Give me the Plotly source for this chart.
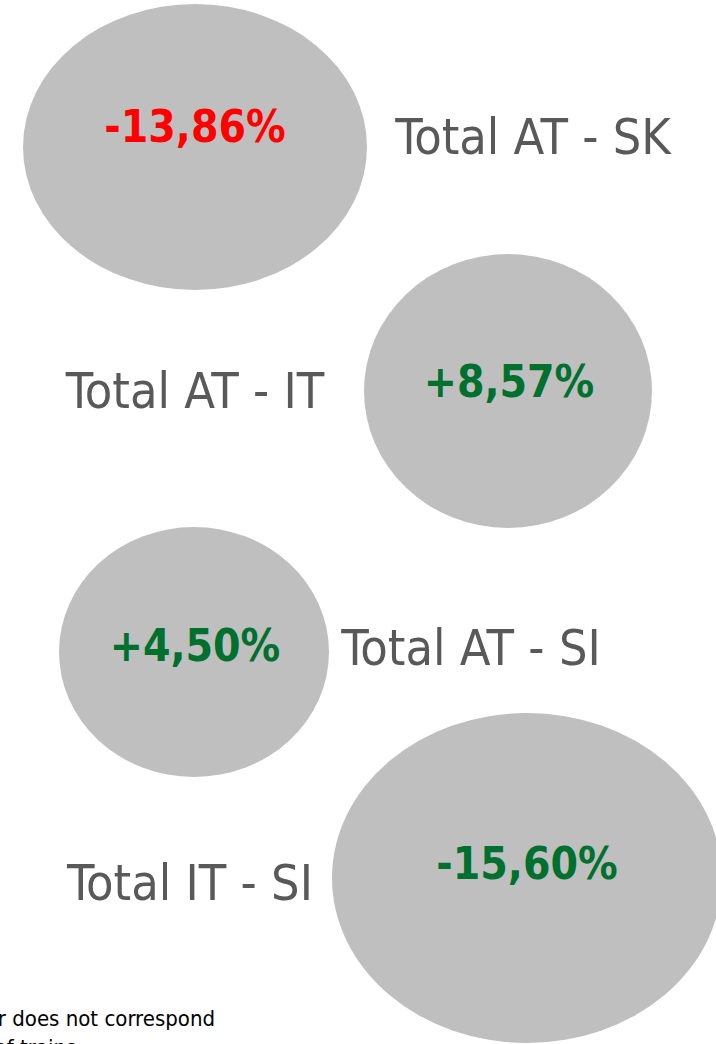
import plotly.graph_objects as go

# route pairs and their change (percent)
routes = ["Total AT - SK", "Total AT - IT", "Total AT - SI", "Total IT - SI"]
changes = [-13.86, 8.57, 4.50, -15.60]
footnote = "Bubble diameter does not correspond<br>to the quantity of trains"

# layout of the bubbles on a 716 x 1044 pixel canvas
bubble_cx = [195, 508, 194, 527]
bubble_cy = [147, 391, 652, 878]
bubble_rx = [172, 144, 135, 195]
bubble_ry = [143, 137, 125, 165]
value_xy = [(195, 131), (509, 386), (195, 650), (527, 868)]
route_xy = [(533, 141), (195, 395), (471, 652), (190, 887)]
value_colors = ["#FF0000", "#00702E", "#00702E", "#00702E"]

GREY_FILL = "#BFBFBF"
LABEL_GREY = "#595959"
NARROW = "DejaVu Sans Condensed, Liberation Sans Narrow, sans-serif"


def fmt(v):
    return f"{v:+.2f}%".replace(".", ",")


fig = go.Figure()

for cx, cy, rx, ry in zip(bubble_cx, bubble_cy, bubble_rx, bubble_ry):
    fig.add_shape(
        type="circle",
        xref="x", yref="y",
        x0=cx - rx, x1=cx + rx, y0=cy - ry, y1=cy + ry,
        fillcolor=GREY_FILL,
        line=dict(width=0),
        layer="below",
    )

fig.add_trace(go.Scatter(
    x=[p[0] for p in value_xy],
    y=[p[1] for p in value_xy],
    mode="text",
    text=[fmt(v) for v in changes],
    textposition="middle center",
    textfont=dict(family=NARROW, size=44, color=value_colors, weight="bold"),
    hoverinfo="skip",
    showlegend=False,
))

fig.add_trace(go.Scatter(
    x=[p[0] for p in route_xy],
    y=[p[1] for p in route_xy],
    mode="text",
    text=routes,
    textposition="middle center",
    textfont=dict(family=NARROW, size=50, color=LABEL_GREY),
    hoverinfo="skip",
    showlegend=False,
))

# footnote runs off the left and bottom edges, as in the source slide
fig.add_annotation(
    x=-161 / 716, y=(1044 - 1004) / 1044,
    xref="paper", yref="paper",
    xanchor="left", yanchor="top",
    text=footnote,
    showarrow=False,
    align="left",
    font=dict(family=NARROW, size=22, color="#000000"),
)

fig.update_xaxes(range=[0, 716], visible=False, fixedrange=True)
fig.update_yaxes(range=[1044, 0], visible=False, fixedrange=True)
fig.update_layout(
    width=716,
    height=1044,
    margin=dict(l=0, r=0, t=0, b=0),
    paper_bgcolor="white",
    plot_bgcolor="white",
)

fig.write_html(
    "out.html",
    config={"displayModeBar": False},
    post_script="document.body.style.margin = '0';",
)
